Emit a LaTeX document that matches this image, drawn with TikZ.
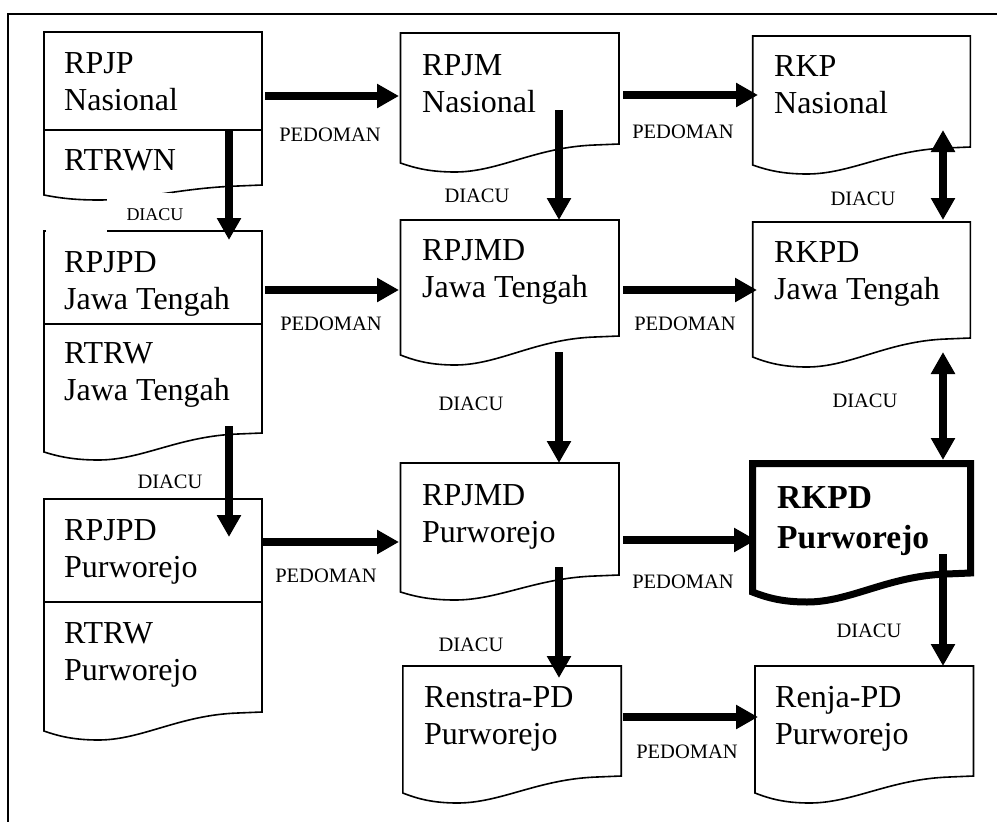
\documentclass[tikz,border=0pt]{standalone}
\usepackage{fontspec}
\setmainfont{Liberation Serif}
\usetikzlibrary{arrows.meta}
\tikzset{
 doc/.style={line width=1.6pt, line join=miter},
 bolddoc/.style={line width=7pt, line join=miter},
 arr/.style={line width=7.5pt, -{Triangle[length=22pt,width=23pt]}},
 darr/.style={line width=7.5pt, {Triangle[length=22pt,width=23pt]}-{Triangle[length=22pt,width=23pt]}},
 boxtext/.style={anchor=base west, inner sep=0pt, font=\fontsize{32}{37}\selectfont},
 boldtext/.style={anchor=base west, inner sep=0pt, font=\fontsize{33.5}{40}\selectfont\bfseries},
 lbl/.style={anchor=base, inner sep=0pt, font=\fontsize{20.5}{24}\selectfont},
 lblsmall/.style={anchor=base, inner sep=0pt, font=\fontsize{18}{22}\selectfont},
}
\newcommand\twolines[2]{\begin{tabular}[t]{@{}l@{}}#1\\#2\end{tabular}}
\newcommand\docbox[7][doc]{%
 \draw[#1] (#2,#6) -- (#2,#3) -- (#4,#3) -- (#4,#5) -- ({#2+0.89*(#4-#2)},{#5+1})
   .. controls ({#2+0.62*(#4-#2)},{#5+3}) and ({#2+0.45*(#4-#2)},{#6+#7}) .. ({#2+0.25*(#4-#2)},{#6+#7})
   .. controls ({#2+0.14*(#4-#2)},{#6+#7}) and ({#2+0.07*(#4-#2)},{#6+0.6*#7}) .. (#2,#6) -- cycle;}
\begin{document}
\begin{tikzpicture}[x=1pt,y=-1pt]
\useasboundingbox (0,0) rectangle (997,822);
% frame (cropped)
\draw[line width=2pt] (997,14) -- (8,14) -- (8,822);

% column 1
\docbox{44}{32}{262}{185}{195}{5}
\draw[doc] (44,130) -- (262,130);
\docbox{44}{231}{262}{433}{452}{8}
\draw[doc] (44,324) -- (262,324);
\docbox{44}{499}{262}{712}{731}{9}
\draw[doc] (44,602) -- (262,602);
% column 2
\docbox{400.5}{33}{619}{144}{163}{9}
\docbox{400.5}{220}{619}{336}{355}{10}
\docbox{400.5}{463}{619}{575}{592}{8}
\docbox{402.8}{666}{621.2}{776}{793}{10}
% column 3
\docbox{752.7}{36}{970.3}{147}{165}{9}
\docbox{752.7}{222}{970.3}{338}{357}{10}
\docbox[bolddoc]{752.5}{463.5}{970.5}{573}{592}{10}
\docbox{755}{666}{973.5}{776}{793}{10}

% white gaps as in the reference
\fill[white] (107,193) rectangle (172,226);
\fill[white] (45.5,228.5) rectangle (107,233.5);

% box texts
\node[boxtext] (t1) at (64,73) {\twolines{RPJP}{Nasional}};
\node[boxtext] (t2) at (64,170) {RTRWN};
\node[boxtext] (t3) at (64,272) {\twolines{RPJPD}{Jawa Tengah}};
\node[boxtext] (t4) at (64,363) {\twolines{RTRW}{Jawa Tengah}};
\node[boxtext] (t5) at (64,540) {\twolines{RPJPD}{Purworejo}};
\node[boxtext] (t6) at (64,643) {\twolines{RTRW}{Purworejo}};
\node[boxtext] (t7) at (422,75) {\twolines{RPJM}{Nasional}};
\node[boxtext] (t8) at (422,260) {\twolines{RPJMD}{Jawa Tengah}};
\node[boxtext] (t9) at (422,505) {\twolines{RPJMD}{Purworejo}};
\node[boxtext] (t10) at (424,707) {\twolines{Renstra-PD}{Purworejo}};
\node[boxtext] (t11) at (774,76) {\twolines{RKP}{Nasional}};
\node[boxtext] (t12) at (774,262) {\twolines{RKPD}{Jawa Tengah}};
\node[boldtext] (t13) at (777,508) {\twolines{RKPD}{Purworejo}};
\node[boxtext] (t14) at (775,707) {\twolines{Renja-PD}{Purworejo}};

% arrow end points
\coordinate (h1a) at (265,96);   \coordinate (h1b) at (399,96);
\coordinate (h2a) at (623,95);   \coordinate (h2b) at (758,95);
\coordinate (h3a) at (265,290);  \coordinate (h3b) at (399,290);
\coordinate (h4a) at (623,290);  \coordinate (h4b) at (757,290);
\coordinate (h5a) at (263,542);  \coordinate (h5b) at (399,542);
\coordinate (h6a) at (623,540);  \coordinate (h6b) at (756,540);
\coordinate (h7a) at (623,717);  \coordinate (h7b) at (758,717);
\coordinate (v1a) at (229,130);  \coordinate (v1b) at (229,240);
\coordinate (v2a) at (229,426);  \coordinate (v2b) at (229,537);
\coordinate (v3a) at (559,110);  \coordinate (v3b) at (559,220);
\coordinate (v4a) at (559,352);  \coordinate (v4b) at (559,463);
\coordinate (v5a) at (559,567);  \coordinate (v5b) at (559,678);
\coordinate (v6a) at (943,130);  \coordinate (v6b) at (943,220);
\coordinate (v7a) at (943,352);  \coordinate (v7b) at (943,460);
\coordinate (v8a) at (943,554);  \coordinate (v8b) at (943,666);

\draw[arr] (h1a) -- (h1b);
\draw[arr] (h2a) -- (h2b);
\draw[arr] (h3a) -- (h3b);
\draw[arr] (h4a) -- (h4b);
\draw[arr] (h5a) -- (h5b);
\draw[arr] (h6a) -- (h6b);
\draw[arr] (h7a) -- (h7b);
\draw[arr] (v1a) -- (v1b);
\draw[arr] (v2a) -- (v2b);
\draw[arr] (v3a) -- (v3b);
\draw[arr] (v4a) -- (v4b);
\draw[arr] (v5a) -- (v5b);
\draw[darr] (v6a) -- (v6b);
\draw[darr] (v7a) -- (v7b);
\draw[arr] (v8a) -- (v8b);

% labels
\node[lbl] (p1) at (330,141.7) {PEDOMAN};
\node[lbl] (p2) at (683,138) {PEDOMAN};
\node[lbl] (p3) at (331,330) {PEDOMAN};
\node[lbl] (p4) at (685,330) {PEDOMAN};
\node[lbl] (p5) at (326,582) {PEDOMAN};
\node[lbl] (p6) at (683,588) {PEDOMAN};
\node[lbl] (p7) at (687,758) {PEDOMAN};
\node[lblsmall] (d1) at (155,220) {DIACU};
\node[lbl] (d2) at (170,488) {DIACU};
\node[lbl] (d3) at (477,202) {DIACU};
\node[lbl] (d4) at (471,410) {DIACU};
\node[lbl] (d5) at (471,651) {DIACU};
\node[lbl] (d6) at (863,205) {DIACU};
\node[lbl] (d7) at (865,407) {DIACU};
\node[lbl] (d8) at (869,637) {DIACU};
\end{tikzpicture}
\end{document}
